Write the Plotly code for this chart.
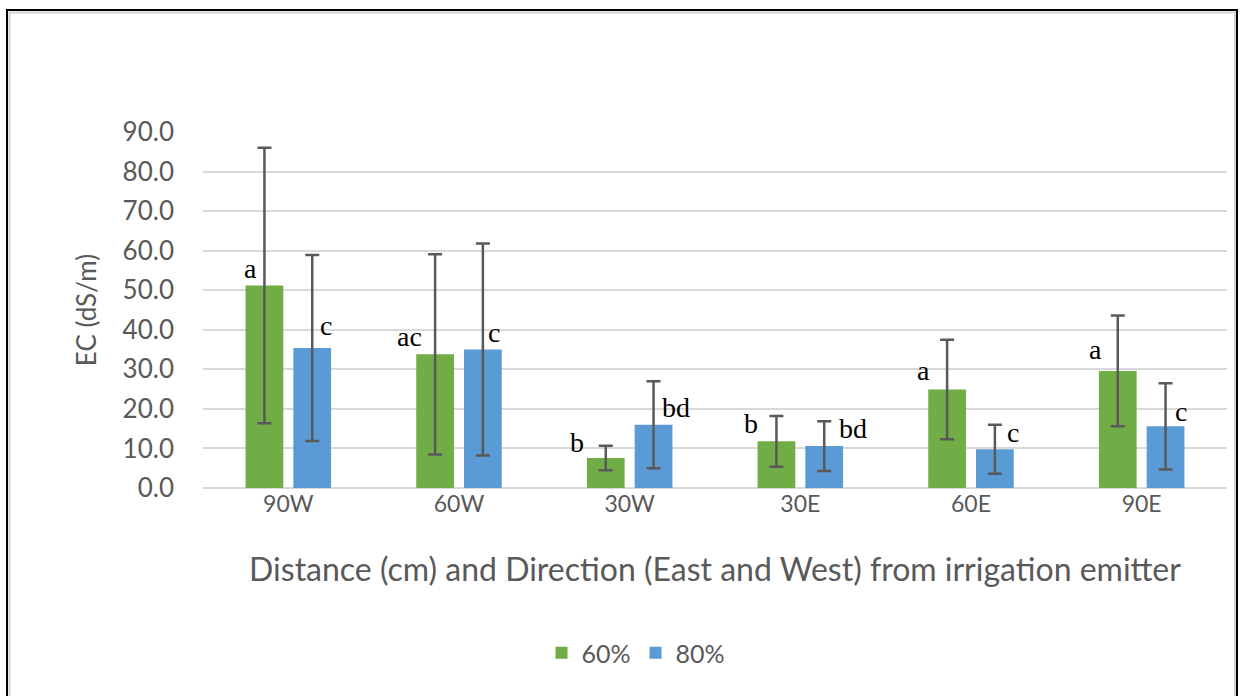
import plotly.graph_objects as go

categories = ["90W", "60W", "30W", "30E", "60E", "90E"]
ec_60 = [51.2, 33.8, 7.6, 11.8, 24.9, 29.6]
sd_60 = [34.8, 25.3, 3.1, 6.4, 12.6, 14.0]
ec_80 = [35.4, 35.0, 16.0, 10.6, 9.8, 15.6]
sd_80 = [23.5, 26.8, 11.0, 6.3, 6.2, 10.9]
letters_60 = ["a", "ac", "b", "b", "a", "a"]
letters_80 = ["c", "c", "bd", "bd", "c", "c"]

# layout-only placement of significance letters (category offset, height)
pos_60 = [(-0.223, 55.6), (-0.29, 38.2), (-0.31, 11.6), (-0.29, 16.4), (-0.28, 29.8), (-0.27, 35.0)]
pos_80 = [(0.223, 41.0), (0.205, 39.4), (0.27, 20.4), (0.31, 15.1), (0.245, 14.1), (0.23, 19.4)]

GREEN = "#70ad47"
BLUE = "#5b9bd5"
ERR = "#595959"
TXT = "#595959"
FONT = "Lato, Open Sans, sans-serif"
SERIF = "Liberation Serif, serif"

fig = go.Figure()
fig.add_trace(go.Bar(
    name="60%", x=categories, y=ec_60, marker_color=GREEN, marker_line_width=0,
    error_y=dict(type="data", array=sd_60, visible=True, color=ERR, thickness=2.5, width=7),
))
fig.add_trace(go.Bar(
    name="80%", x=categories, y=ec_80, marker_color=BLUE, marker_line_width=0,
    error_y=dict(type="data", array=sd_80, visible=True, color=ERR, thickness=2.5, width=7),
))

annotations = []
for i, (lab, (dx, yv)) in enumerate(zip(letters_60, pos_60)):
    annotations.append(dict(x=i + dx, y=yv, xref="x", yref="y", text=lab, showarrow=False,
                            font=dict(family=SERIF, size=28, color="#000000")))
for i, (lab, (dx, yv)) in enumerate(zip(letters_80, pos_80)):
    annotations.append(dict(x=i + dx, y=yv, xref="x", yref="y", text=lab, showarrow=False,
                            font=dict(family=SERIF, size=28, color="#000000")))

L, R, T, B = 203, 17, 132, 208
PW = 1244 - L - R
PH = 696 - T - B

def px(xp):
    return (xp - L) / PW

def py(yp):
    return (696 - B - yp) / PH

fig.update_layout(
    width=1244, height=696,
    margin=dict(l=L, r=R, t=T, b=B),
    paper_bgcolor="white", plot_bgcolor="white",
    barmode="group", bargap=0.44, bargroupgap=0.21,
    font=dict(family=FONT, color=TXT),
    showlegend=True,
    legend=dict(orientation="h", x=px(636), y=py(653), xanchor="center", yanchor="middle",
                font=dict(size=25, color=TXT), itemwidth=30, traceorder="normal"),
    annotations=annotations,
    shapes=[
        dict(type="rect", xref="paper", yref="paper",
             x0=px(9.5), x1=px(1235), y0=py(705), y1=py(12.5),
             line=dict(color="#d4d4d4", width=2), fillcolor="rgba(0,0,0,0)", layer="below"),
        dict(type="rect", xref="paper", yref="paper",
             x0=px(7), x1=px(1237), y0=py(705), y1=py(10),
             line=dict(color="black", width=2), fillcolor="rgba(0,0,0,0)", layer="below"),
    ],
)
fig.update_xaxes(
    type="category", showgrid=False, showline=False, ticks="",
    tickfont=dict(size=23, color=TXT, family=FONT),
    title=dict(text="Distance (cm) and Direction (East and West) from irrigation emitter",
               font=dict(size=32, color=TXT, family=FONT), standoff=42),
)
fig.update_yaxes(
    range=[0, 90], dtick=10, tickformat=".1f", showgrid=True, gridcolor="#d9d9d9", gridwidth=2,
    zeroline=True, zerolinecolor="#d9d9d9", zerolinewidth=2, showline=False, ticks="",
    tickfont=dict(size=26, color=TXT, family=FONT), ticklabelstandoff=28,
    title=dict(text="EC (dS/m)", font=dict(size=26, color=TXT, family=FONT), standoff=18),
)

fig.write_html("out.html", config={"displayModeBar": False},
               post_script="document.body.style.margin='0px';")
